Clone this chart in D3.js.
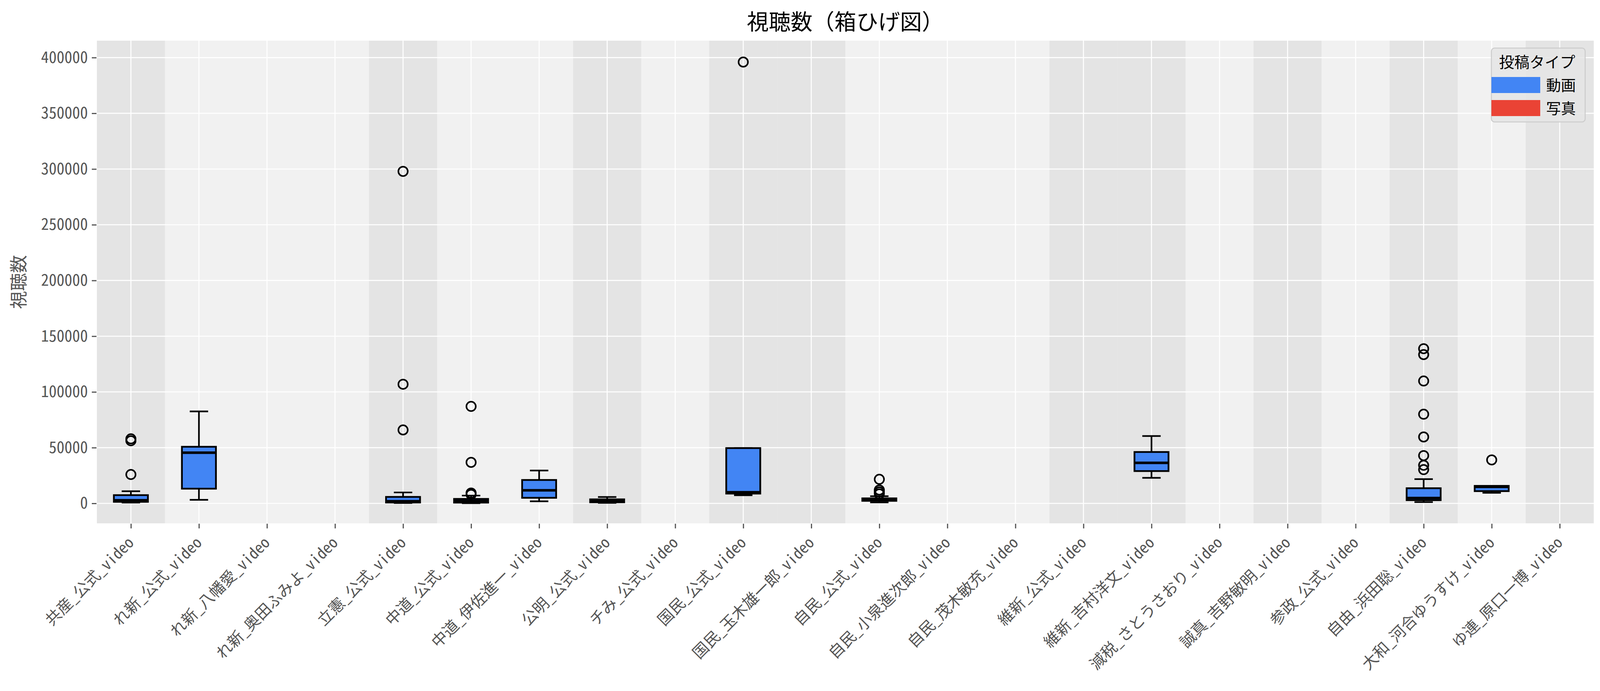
<!DOCTYPE html>
<html>
<head>
<meta charset="utf-8">
<script src="https://cdn.jsdelivr.net/npm/d3@7"></script>
<style>
body { margin: 0; background: #fff; }
text { font-family: "Noto Sans Mono CJK JP", "Noto Sans CJK JP", "Noto Sans", sans-serif; }
</style>
</head>
<body>
<div id="chart"></div>
<script>
// categories (one per account) and box statistics
var categories = [
    "共産_公式_video", "れ新_公式_video", "れ新_八幡愛_video", "れ新_奥田ふみよ_video",
    "立憲_公式_video", "中道_公式_video", "中道_伊佐進一_video", "公明_公式_video",
    "チみ_公式_video", "国民_公式_video", "国民_玉木雄一郎_video", "自民_公式_video",
    "自民_小泉進次郎_video", "自民_茂木敏充_video", "維新_公式_video", "維新_吉村洋文_video",
    "減税_さとうさおり_video", "誠真_吉野敏明_video", "参政_公式_video", "自由_浜田聡_video",
    "大和_河合ゆうすけ_video", "ゆ連_原口一博_video"
];
var whiskerLow  = [700, 3200, null, null, 400, 200, 1900, 500, null, 7300, null, 900, null, null, null, 22900, null, null, null, 1200, 9500, null];
var q1Values    = [1400, 13200, null, null, 800, 700, 5000, 1000, null, 8800, null, 2300, null, null, null, 29000, null, null, null, 2900, 11000, null];
var medians     = [2800, 45500, null, null, 1900, 2100, 11700, 2300, null, 10000, null, 3300, null, null, null, 36400, null, null, null, 4800, 14800, null];
var q3Values    = [7400, 50800, null, null, 5800, 4000, 21000, 3600, null, 49600, null, 4500, null, null, null, 46100, null, null, null, 13600, 15700, null];
var whiskerHigh = [10900, 82500, null, null, 9800, 7000, 29500, 5700, null, 49600, null, 6400, null, null, null, 60400, null, null, null, 21800, 15700, null];
var outliers = [
    [25900, 56200, 57900], [], [], [],
    [65900, 106900, 297900], [8000, 9300, 36800, 87000], [], [],
    [], [396000], [], [8500, 10200, 12000, 21600],
    [], [], [], [],
    [], [], [], [30300, 34200, 42900, 59600, 80000, 109800, 133500, 138800],
    [39000], []
];
var yTicks = [0, 50000, 100000, 150000, 200000, 250000, 300000, 350000, 400000];
var legendLabels = ["動画", "写真"];
var legendColors = ["#4285f4", "#ea4335"];

var width = 4110,
    height = 1768,
    margin = {top: 104, right: 30, bottom: 429, left: 248},
    plotW = width - margin.left - margin.right,
    plotH = height - margin.top - margin.bottom;

var svg = d3.select('#chart')
    .append('svg')
    .attr('width', width)
    .attr('height', height);

var x = d3.scalePoint()
    .domain(categories)
    .range([margin.left, margin.left + plotW])
    .padding(0.5);
var step = x.step();

var y = d3.scaleLinear()
    .domain([-17900, 415200])
    .range([margin.top + plotH, margin.top]);

// party stripes: alternate shade each time the party prefix changes
var shade = 0, lastParty = null;
var stripes = categories.map(function (c) {
    var party = c.split('_')[0];
    if (lastParty !== null && party !== lastParty) {
        shade = 1 - shade;
    }
    lastParty = party;
    return {name: c, dark: shade === 0};
});

svg.append('rect')
    .attr('x', margin.left)
    .attr('y', margin.top)
    .attr('width', plotW)
    .attr('height', plotH)
    .style('fill', '#f1f1f1');

svg.append('g').selectAll('rect')
    .data(stripes.filter(function (d) { return d.dark; }))
    .enter().append('rect')
    .attr('x', function (d) { return x(d.name) - step / 2; })
    .attr('y', margin.top)
    .attr('width', step)
    .attr('height', plotH)
    .style('fill', '#e4e4e4');

// grid
var grid = svg.append('g');
grid.selectAll('.hgrid')
    .data(yTicks)
    .enter().append('line')
    .attr('class', 'hgrid')
    .attr('x1', margin.left)
    .attr('x2', margin.left + plotW)
    .attr('y1', function (d) { return y(d); })
    .attr('y2', function (d) { return y(d); })
    .style('stroke', '#fff')
    .style('stroke-width', 2.6);
grid.selectAll('.vgrid')
    .data(categories)
    .enter().append('line')
    .attr('class', 'vgrid')
    .attr('x1', function (d) { return x(d); })
    .attr('x2', function (d) { return x(d); })
    .attr('y1', margin.top)
    .attr('y2', margin.top + plotH)
    .style('stroke', '#fff')
    .style('stroke-width', 2.6);

// axes
var yAxis = svg.append('g')
    .attr('transform', 'translate(' + (margin.left - 1) + ',0)')
    .call(d3.axisLeft(y).tickValues(yTicks).tickFormat(d3.format('d')).tickSize(12).tickPadding(10));
yAxis.select('.domain').remove();
yAxis.selectAll('line').style('stroke', '#555').style('stroke-width', 3);
yAxis.selectAll('text')
    .style('font-size', '40px')
    .style('fill', '#555')
    .style('font-family', '"Noto Sans Mono CJK JP", "Noto Sans CJK JP", sans-serif');

var xAxis = svg.append('g')
    .attr('transform', 'translate(0,' + (margin.top + plotH + 1) + ')')
    .call(d3.axisBottom(x).tickSize(12).tickFormat(''));
xAxis.select('.domain').remove();
xAxis.selectAll('line').style('stroke', '#555').style('stroke-width', 3);

svg.append('g').selectAll('text')
    .data(categories)
    .enter().append('text')
    .attr('transform', function (d) {
        return 'translate(' + (x(d) + 10) + ',' + (margin.top + plotH + 52) + ') rotate(-45)';
    })
    .attr('text-anchor', 'end')
    .style('font-size', '40px')
    .style('fill', '#555')
    .text(function (d) { return d; });

// boxes
var boxes = categories.map(function (c, i) {
    return {
        name: c,
        lo: whiskerLow[i],
        q1: q1Values[i],
        med: medians[i],
        q3: q3Values[i],
        hi: whiskerHigh[i],
        out: outliers[i]
    };
}).filter(function (d) { return d.med !== null; });

var boxW = step * 0.5,
    capW = step * 0.27;

var g = svg.append('g').selectAll('g')
    .data(boxes)
    .enter().append('g');

g.append('line')
    .attr('x1', function (d) { return x(d.name); })
    .attr('x2', function (d) { return x(d.name); })
    .attr('y1', function (d) { return y(d.q3); })
    .attr('y2', function (d) { return y(d.hi); })
    .style('stroke', '#000')
    .style('stroke-width', 4.2);
g.append('line')
    .attr('x1', function (d) { return x(d.name); })
    .attr('x2', function (d) { return x(d.name); })
    .attr('y1', function (d) { return y(d.q1); })
    .attr('y2', function (d) { return y(d.lo); })
    .style('stroke', '#000')
    .style('stroke-width', 4.2);
g.append('line')
    .attr('x1', function (d) { return x(d.name) - capW / 2; })
    .attr('x2', function (d) { return x(d.name) + capW / 2; })
    .attr('y1', function (d) { return y(d.hi); })
    .attr('y2', function (d) { return y(d.hi); })
    .style('stroke', '#000')
    .style('stroke-width', 4.2);
g.append('line')
    .attr('x1', function (d) { return x(d.name) - capW / 2; })
    .attr('x2', function (d) { return x(d.name) + capW / 2; })
    .attr('y1', function (d) { return y(d.lo); })
    .attr('y2', function (d) { return y(d.lo); })
    .style('stroke', '#000')
    .style('stroke-width', 4.2);
g.append('rect')
    .attr('x', function (d) { return x(d.name) - boxW / 2; })
    .attr('y', function (d) { return y(d.q3); })
    .attr('width', boxW)
    .attr('height', function (d) { return y(d.q1) - y(d.q3); })
    .style('fill', '#4285f4')
    .style('stroke', '#000')
    .style('stroke-width', 4.5);
g.append('line')
    .attr('x1', function (d) { return x(d.name) - boxW / 2; })
    .attr('x2', function (d) { return x(d.name) + boxW / 2; })
    .attr('y1', function (d) { return y(d.med); })
    .attr('y2', function (d) { return y(d.med); })
    .style('stroke', '#000')
    .style('stroke-width', 6.5);
g.selectAll('circle')
    .data(function (d) { return d.out.map(function (v) { return {name: d.name, v: v}; }); })
    .enter().append('circle')
    .attr('cx', function (d) { return x(d.name); })
    .attr('cy', function (d) { return y(d.v); })
    .attr('r', 12)
    .style('fill', 'none')
    .style('stroke', '#000')
    .style('stroke-width', 4);

// title and axis label
svg.append('text')
    .attr('x', margin.left + plotW / 2)
    .attr('y', 76)
    .attr('text-anchor', 'middle')
    .style('font-size', '56px')
    .style('fill', '#000')
    .text('視聴数（箱ひげ図）');

svg.append('text')
    .attr('transform', 'translate(64,' + (margin.top + plotH / 2) + ') rotate(-90)')
    .attr('text-anchor', 'middle')
    .style('font-size', '46px')
    .style('fill', '#555')
    .text('視聴数');

// legend
var legend = svg.append('g').attr('transform', 'translate(3818,123)');
legend.append('rect')
    .attr('width', 240)
    .attr('height', 189)
    .attr('rx', 8)
    .style('fill', '#e5e5e5')
    .style('fill-opacity', 0.85)
    .style('stroke', '#cccccc')
    .style('stroke-width', 2.5);
legend.append('text')
    .attr('x', 117)
    .attr('y', 50)
    .attr('text-anchor', 'middle')
    .style('font-size', '39px')
    .style('fill', '#000')
    .text('投稿タイプ');
var items = legend.selectAll('.item')
    .data(legendLabels)
    .enter().append('g')
    .attr('class', 'item')
    .attr('transform', function (d, i) { return 'translate(0,' + (74 + i * 59) + ')'; });
items.append('rect')
    .attr('width', 125)
    .attr('height', 41)
    .style('fill', function (d, i) { return legendColors[i]; });
items.append('text')
    .attr('x', 140)
    .attr('y', 35)
    .style('font-size', '38px')
    .style('fill', '#000')
    .text(function (d) { return d; });
</script>
</body>
</html>
